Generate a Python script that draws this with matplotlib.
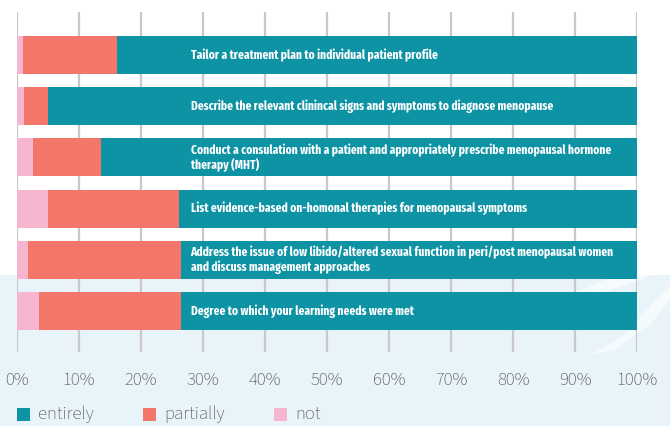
import matplotlib
matplotlib.use("Agg")
import matplotlib.pyplot as plt
from matplotlib.patches import Rectangle, Polygon
from matplotlib import font_manager as fm

# survey items, top to bottom
items = [
    "Tailor a treatment plan to individual patient profile",
    "Describe the relevant clinincal signs and symptoms to diagnose menopause",
    "Conduct a consulation with a patient and appropriately prescribe menopausal hormone\ntherapy (MHT)",
    "List evidence-based on-homonal therapies for menopausal symptoms",
    "Address the issue of low libido/altered sexual function in peri/post menopausal women\nand discuss management approaches",
    "Degree to which your learning needs were met",
]
not_pct = [0.9, 1.1, 2.6, 5.0, 1.8, 3.5]
partially_pct = [15.3, 3.9, 10.9, 21.1, 24.6, 22.9]
entirely_pct = [83.8, 95.0, 86.5, 73.9, 73.6, 73.6]
series = ["entirely", "partially", "not"]
xticks = [0, 10, 20, 30, 40, 50, 60, 70, 80, 90, 100]

TEAL, SALMON, PINK = "#0e93a5", "#f2766a", "#f7b6cf"
GREY = "#4a4a4a"
avail = {f.name for f in fm.fontManager.ttflist}
def pick(*c):
    for n in c:
        if n in avail: return n
    return "DejaVu Sans"
label_font = pick("Fira Sans Extra Condensed", "Fira Sans Condensed", "PT Sans Narrow")
tick_font = pick("Source Sans 3", "Open Sans", "DejaVu Sans")

W, H = 670, 426
fig = plt.figure(figsize=(W / 100, H / 100), dpi=100)
fig.patch.set_facecolor("white")
# light blue band + faint swooshes at the bottom of the page
fig.add_artist(Rectangle((0, 0), 1, 1 - 275 / H, transform=fig.transFigure,
                         facecolor="#e8f3fa", edgecolor="none", zorder=0))
for pts in ([(560, 300), (600, 282), (650, 262), (670, 258), (670, 268), (640, 280), (590, 298)],
            [(590, 355), (625, 335), (655, 300), (670, 285), (670, 300), (650, 325), (615, 350)]):
    fig.add_artist(Polygon([(x / W, 1 - y / H) for x, y in pts], transform=fig.transFigure,
                           facecolor="white", edgecolor="none", alpha=0.6, zorder=0))

ax = fig.add_axes([17 / W, 1 - 352 / H, 620 / W, 340 / H])
ax.set_facecolor("none")
y = list(range(len(items)))
left2 = [a + b for a, b in zip(not_pct, partially_pct)]
ax.barh(y, not_pct, height=0.74, color=PINK, zorder=2)
ax.barh(y, partially_pct, left=not_pct, height=0.74, color=SALMON, zorder=2)
ax.barh(y, entirely_pct, left=left2, height=0.74, color=TEAL, zorder=2)

for yi, lab in zip(y, items):
    ax.text(28.0, yi, lab, color="white", fontsize=9, fontweight="bold",
            family=label_font, va="center", ha="left", linespacing=1.12, zorder=3)

ax.set_xlim(0, 100)
ax.set_ylim(5.8, -0.84)
ax.set_xticks(xticks)
ax.set_xticklabels([f"{t}%" for t in xticks], family=tick_font, fontweight="light")
ax.set_yticks([])
ax.grid(axis="x", color="#c8c8c8", lw=1.6, zorder=1)
ax.tick_params(axis="x", length=0, pad=14, labelsize=13.5, labelcolor=GREY)
for s in ax.spines.values():
    s.set_visible(False)

# legend drawn by hand (square + label)
for name, col, x0 in zip(series, [TEAL, SALMON, PINK], [17, 143, 274]):
    fig.add_artist(Rectangle((x0 / W, 1 - 421 / H), 13 / W, 13 / H, transform=fig.transFigure,
                             facecolor=col, edgecolor="none"))
    fig.text((x0 + 21) / W, 1 - 414 / H, name, family=tick_font, fontweight="light",
             fontsize=13.5, color=GREY, va="center", ha="left")

fig.savefig("out.png", dpi=100, facecolor=fig.get_facecolor())
